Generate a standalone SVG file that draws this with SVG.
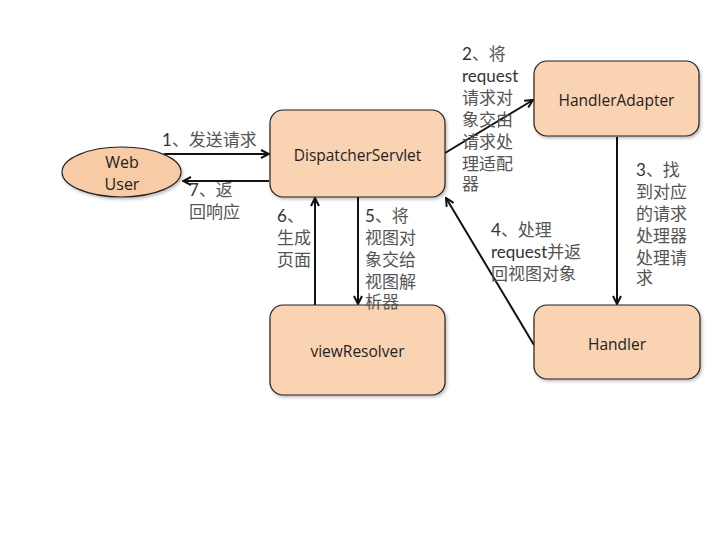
<svg xmlns="http://www.w3.org/2000/svg" width="720" height="540" viewBox="0 0 720 540">
<defs>
<style>
.box{fill:#FAD3B3;stroke:#222;stroke-width:1.2}
.ell{fill:#F7CBA5;stroke:#222;stroke-width:1.2}
.nt{font-family:"Open Sans","Noto Sans",sans-serif;font-size:15.5px;fill:#222;text-anchor:middle}
.lb{font-family:"Lato","Noto Sans CJK SC",sans-serif;font-size:17px;fill:#333}
.cn{fill:#555}
.ln{stroke:#111;stroke-width:2;fill:none;marker-end:url(#arr)}
</style>
<marker id="arr" viewBox="0 0 10 10" refX="9" refY="5" markerWidth="5" markerHeight="5" orient="auto" markerUnits="strokeWidth">
<path d="M1,1 L9,5 L1,9" fill="none" stroke="#111" stroke-width="2"/>
</marker>
<filter id="sh" x="-10%" y="-10%" width="130%" height="130%">
<feDropShadow dx="1.5" dy="2" stdDeviation="1.5" flood-color="#000" flood-opacity="0.25"/>
</filter>
</defs>
<rect width="720" height="540" fill="#fff"/>
<g id="connectors">
<line class="ln" x1="164" y1="154" x2="269" y2="154"/>
<line class="ln" x1="269" y1="181" x2="183" y2="181"/>
<line class="ln" x1="315" y1="305" x2="315" y2="198"/>
<line class="ln" x1="358" y1="197" x2="358" y2="304"/>
<line class="ln" x1="445" y1="153" x2="533" y2="100"/>
<line class="ln" x1="617" y1="137" x2="617" y2="304"/>
<line class="ln" x1="534" y1="345" x2="446" y2="198"/>
</g>
<g id="webuser">
<ellipse class="ell" cx="121.5" cy="172" rx="59.5" ry="25" filter="url(#sh)"/>
<text class="nt" x="122" y="168" style="font-size:16px">Web</text>
<text class="nt" x="122" y="190" style="font-size:16px">User</text>
</g>
<g id="dispatcherservlet">
<rect class="box" x="270" y="110" width="175" height="87" rx="13" filter="url(#sh)"/>
<text class="nt" x="357.5" y="161">DispatcherServlet</text>
</g>
<g id="handleradapter">
<rect class="box" x="534" y="61" width="165" height="75" rx="13" filter="url(#sh)"/>
<text class="nt" x="616.5" y="106">HandlerAdapter</text>
</g>
<g id="handler">
<rect class="box" x="534" y="305" width="166" height="74" rx="13" filter="url(#sh)"/>
<text class="nt" x="617" y="350">Handler</text>
</g>
<g id="viewresolver">
<rect class="box" x="270" y="305" width="175" height="90" rx="13" filter="url(#sh)"/>
<text class="nt" x="357.5" y="357">viewResolver</text>
</g>
<g id="labels">
<text class="lb" x="162" y="146">1<tspan class="cn">、发送请求</tspan></text>
<text class="lb" x="189" y="196">7<tspan class="cn">、返</tspan></text>
<text class="lb cn" x="189" y="218">回响应</text>
<text class="lb" x="277" y="222">6<tspan class="cn">、</tspan></text>
<text class="lb cn" x="277" y="244">生成</text>
<text class="lb cn" x="277" y="266">页面</text>
<text class="lb" x="365" y="222">5<tspan class="cn">、将</tspan></text>
<text class="lb cn" x="365" y="244">视图对</text>
<text class="lb cn" x="365" y="266">象交给</text>
<text class="lb cn" x="365" y="288">视图解</text>
<text class="lb cn" x="365" y="308">析器</text>
<text class="lb" x="462" y="60">2<tspan class="cn">、将</tspan></text>
<text class="lb" x="462" y="82">request</text>
<text class="lb cn" x="462" y="104">请求对</text>
<text class="lb cn" x="462" y="126">象交由</text>
<text class="lb cn" x="462" y="148">请求处</text>
<text class="lb cn" x="462" y="170">理适配</text>
<text class="lb cn" x="462" y="190">器</text>
<text class="lb" x="636" y="176">3<tspan class="cn">、找</tspan></text>
<text class="lb cn" x="636" y="198">到对应</text>
<text class="lb cn" x="636" y="220">的请求</text>
<text class="lb cn" x="636" y="242">处理器</text>
<text class="lb cn" x="636" y="264">处理请</text>
<text class="lb cn" x="636" y="284">求</text>
<text class="lb" x="491" y="236">4<tspan class="cn">、处理</tspan></text>
<text class="lb" x="491" y="258">request<tspan class="cn">并返</tspan></text>
<text class="lb cn" x="491" y="280">回视图对象</text>
</g>
</svg>
